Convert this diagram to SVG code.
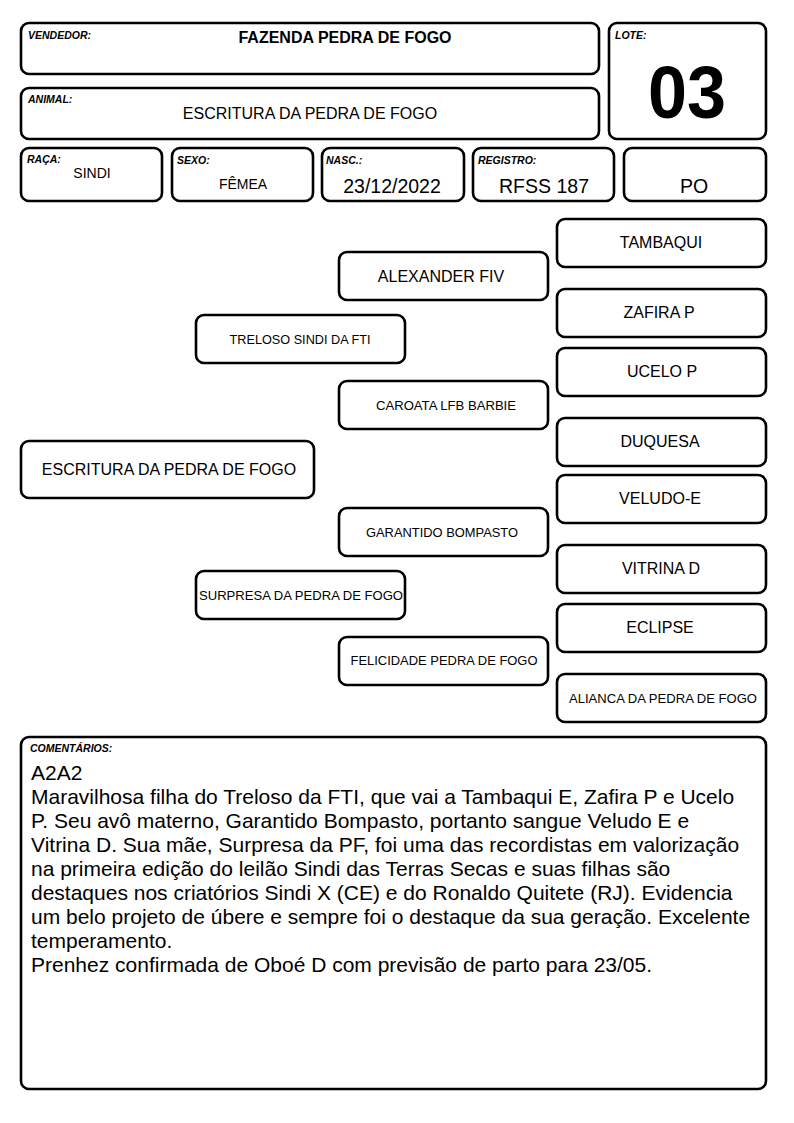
<svg xmlns="http://www.w3.org/2000/svg" width="794" height="1123" viewBox="0 0 794 1123">
<style>
.b{fill:#fff;stroke:#000;stroke-width:2.6}
text{font-family:"Liberation Sans",Arial,sans-serif;fill:#000}
.lab{font-size:10.5px;font-weight:bold;font-style:italic}
.m{text-anchor:middle}
.n16{font-size:16px}
.n13{font-size:13px}
.n19{font-size:19.5px}
.c{font-size:21px}
</style>
<rect width="794" height="1123" fill="#fff"/>
<g id="vendedor"><rect class="b" x="21" y="23" width="578" height="51" rx="8"/><text class="lab" x="28" y="39">VENDEDOR:</text><text x="345" y="43" class="m" font-size="16" font-weight="bold">FAZENDA PEDRA DE FOGO</text></g>
<g id="animal"><rect class="b" x="21" y="88" width="578" height="51" rx="8"/><text class="lab" x="28" y="103">ANIMAL:</text><text x="310" y="119" class="m n16">ESCRITURA DA PEDRA DE FOGO</text></g>
<g id="lote"><rect class="b" x="609" y="23" width="157" height="116" rx="8"/><text class="lab" x="615" y="39">LOTE:</text><text x="687" y="118" class="m" font-size="74" font-weight="bold" textLength="78" lengthAdjust="spacingAndGlyphs">03</text></g>
<g id="raca"><rect class="b" x="21" y="148" width="141" height="53" rx="8"/><text class="lab" x="27" y="163">RAÇA:</text><text x="92" y="178" class="m" font-size="14">SINDI</text></g>
<g id="sexo"><rect class="b" x="172" y="148" width="141" height="53" rx="8"/><text class="lab" x="177" y="164">SEXO:</text><text x="243" y="189" class="m" font-size="14">FÊMEA</text></g>
<g id="nasc"><rect class="b" x="322" y="148" width="142" height="53" rx="8"/><text class="lab" x="326" y="164">NASC.:</text><text x="392" y="193" class="m n19">23/12/2022</text></g>
<g id="registro"><rect class="b" x="473" y="148" width="141" height="53" rx="8"/><text class="lab" x="478" y="164">REGISTRO:</text><text x="544" y="193" class="m n19">RFSS 187</text></g>
<g id="po"><rect class="b" x="624" y="148" width="142" height="53" rx="8"/><text x="694" y="193" class="m n19">PO</text></g>

<g id="tambaqui"><rect class="b" x="557" y="219" width="209" height="48" rx="8"/><text x="661" y="248" class="m n16">TAMBAQUI</text></g>
<g id="alexander"><rect class="b" x="339" y="252" width="209" height="48" rx="8"/><text x="441" y="282" class="m n16">ALEXANDER FIV</text></g>
<g id="zafira"><rect class="b" x="557" y="289" width="209" height="48" rx="8"/><text x="659" y="318" class="m n16">ZAFIRA P</text></g>
<g id="treloso"><rect class="b" x="196" y="315" width="209" height="48" rx="8"/><text x="300" y="344" class="m n13" textLength="141" lengthAdjust="spacingAndGlyphs">TRELOSO SINDI DA FTI</text></g>
<g id="ucelo"><rect class="b" x="557" y="348" width="209" height="48" rx="8"/><text x="662" y="377" class="m n16">UCELO P</text></g>
<g id="caroata"><rect class="b" x="339" y="381" width="209" height="48" rx="8"/><text x="446" y="410" class="m n13" textLength="140" lengthAdjust="spacingAndGlyphs">CAROATA LFB BARBIE</text></g>
<g id="duquesa"><rect class="b" x="557" y="418" width="209" height="48" rx="8"/><text x="660" y="447" class="m n16">DUQUESA</text></g>
<g id="escritura"><rect class="b" x="21" y="441" width="293" height="57" rx="8"/><text x="169" y="475" class="m n16">ESCRITURA DA PEDRA DE FOGO</text></g>
<g id="veludo"><rect class="b" x="557" y="475" width="209" height="48" rx="8"/><text x="660" y="504" class="m n16">VELUDO-E</text></g>
<g id="garantido"><rect class="b" x="339" y="508" width="209" height="48" rx="8"/><text x="442" y="537" class="m n13" textLength="152" lengthAdjust="spacingAndGlyphs">GARANTIDO BOMPASTO</text></g>
<g id="vitrina"><rect class="b" x="557" y="545" width="209" height="48" rx="8"/><text x="661" y="574" class="m n16">VITRINA D</text></g>
<g id="surpresa"><rect class="b" x="196" y="571" width="209" height="48" rx="8"/><text x="301" y="600" class="m n13" textLength="204" lengthAdjust="spacingAndGlyphs">SURPRESA DA PEDRA DE FOGO</text></g>
<g id="eclipse"><rect class="b" x="557" y="604" width="209" height="48" rx="8"/><text x="660" y="633" class="m n16">ECLIPSE</text></g>
<g id="felicidade"><rect class="b" x="339" y="637" width="209" height="48" rx="8"/><text x="444" y="665" class="m n13" textLength="187" lengthAdjust="spacingAndGlyphs">FELICIDADE PEDRA DE FOGO</text></g>
<g id="alianca"><rect class="b" x="557" y="674" width="209" height="48" rx="8"/><text x="663" y="703" class="m n13" textLength="188" lengthAdjust="spacingAndGlyphs">ALIANCA DA PEDRA DE FOGO</text></g>
<g id="connectors"></g>

<g id="comentarios"><rect class="b" x="21" y="737" width="745" height="352" rx="8"/><text class="lab" x="30" y="752" font-size="11">COMENTÁRIOS:</text>
<text class="c" x="31" y="780">A2A2</text>
<text class="c" x="31" y="804">Maravilhosa filha do Treloso da FTI, que vai a Tambaqui E, Zafira P e Ucelo</text>
<text class="c" x="31" y="828">P. Seu avô materno, Garantido Bompasto, portanto sangue Veludo E e</text>
<text class="c" x="31" y="852">Vitrina D. Sua mãe, Surpresa da PF, foi uma das recordistas em valorização</text>
<text class="c" x="31" y="876">na primeira edição do leilão Sindi das Terras Secas e suas filhas são</text>
<text class="c" x="31" y="900">destaques nos criatórios Sindi X (CE) e do Ronaldo Quitete (RJ). Evidencia</text>
<text class="c" x="31" y="924">um belo projeto de úbere e sempre foi o destaque da sua geração. Excelente</text>
<text class="c" x="31" y="948">temperamento.</text>
<text class="c" x="31" y="972">Prenhez confirmada de Oboé D com previsão de parto para 23/05.</text>
</g>
</svg>
